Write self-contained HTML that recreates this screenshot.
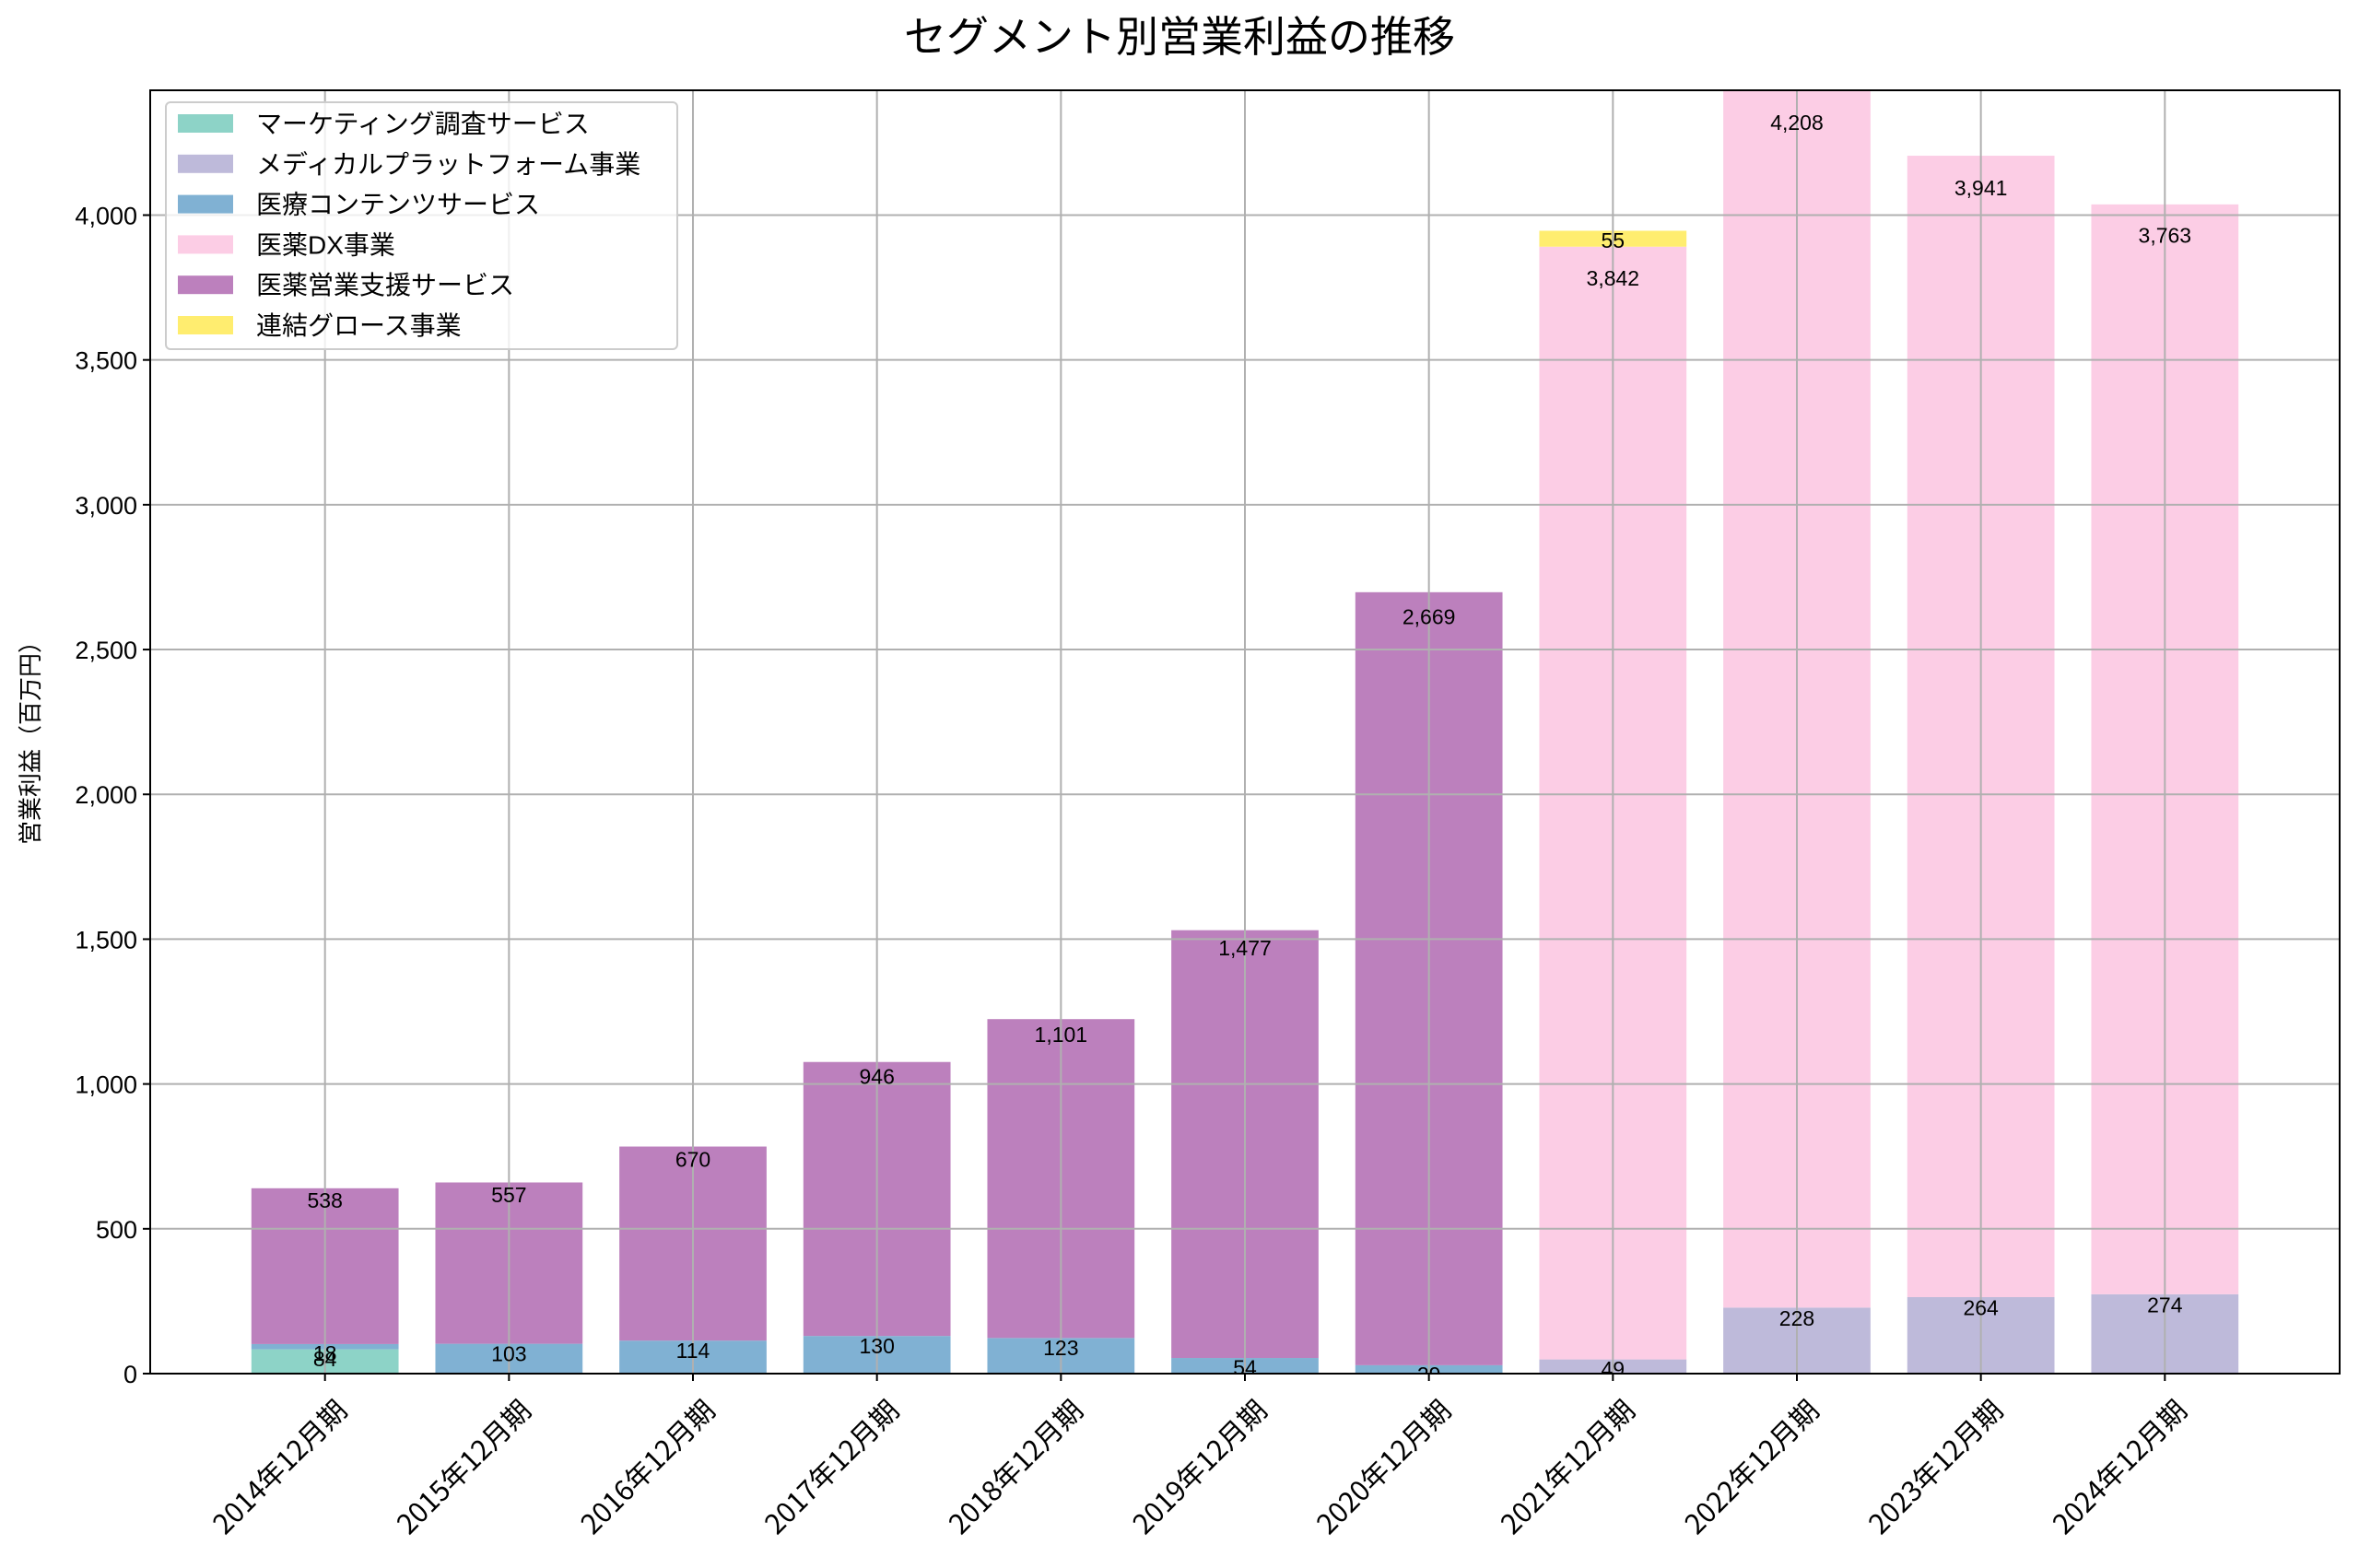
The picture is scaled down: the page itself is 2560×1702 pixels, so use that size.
<!DOCTYPE html>
<html><head><meta charset="utf-8"><style>
body{margin:0;background:#fff}
svg text{font-family:"Liberation Sans","Noto Sans CJK JP",sans-serif}
</style></head><body>
<svg id="chart" width="2560" height="1697" viewBox="0 0 2560 1697" xmlns="http://www.w3.org/2000/svg">
<text x="1280" y="56" text-anchor="middle" font-size="46">セグメント別営業利益の推移</text>
<text transform="translate(42,800) rotate(-90)" text-anchor="middle" font-size="26">営業利益（百万円）</text>
<g id="bars"></g><g id="grid"></g><g id="labels"></g><g id="axes"></g><g id="legend"></g>
</svg>
<script>
const categories=["2014年12月期","2015年12月期","2016年12月期","2017年12月期","2018年12月期","2019年12月期","2020年12月期","2021年12月期","2022年12月期","2023年12月期","2024年12月期"];
const seriesNames=["マーケティング調査サービス","メディカルプラットフォーム事業","医療コンテンツサービス","医薬DX事業","医薬営業支援サービス","連結グロース事業"];
const seriesColors=["#8dd3c7","#bebada","#80b1d3","#fccde5","#bc80bd","#ffed6f"];
const marketing=[84,0,0,0,0,0,0,0,0,0,0];
const platform=[0,0,0,0,0,0,0,49,228,264,274];
const content=[18,103,114,130,123,54,29,0,0,0,0];
const dx=[0,0,0,0,0,0,0,3842,4208,3941,3763];
const sales=[538,557,670,946,1101,1477,2669,0,0,0,0];
const growth=[0,0,0,0,0,0,0,55,0,0,0];
const yTicks=[0,500,1000,1500,2000,2500,3000,3500,4000];
const series=[marketing,platform,content,dx,sales,growth];
const L=163,R=2539,T=98,B=1491,yMax=4431,xMin=-0.95,xMax=10.95;
const ns="http://www.w3.org/2000/svg";
const xS=i=>L+(i-xMin)/(xMax-xMin)*(R-L);
const yS=v=>B-v/yMax*(B-T);
const bw=0.8*(xS(1)-xS(0));
function mk(tag,attrs,parent,txt){const e=document.createElementNS(ns,tag);for(const k in attrs)e.setAttribute(k,attrs[k]);if(txt!==undefined)e.textContent=txt;parent.appendChild(e);return e;}
const gb=document.getElementById('bars'),gg=document.getElementById('grid'),gl=document.getElementById('labels'),ga=document.getElementById('axes'),gleg=document.getElementById('legend');
const cp=mk('clipPath',{id:'clip'},document.getElementById('chart'));mk('rect',{x:L,y:T,width:R-L,height:B-T},cp);
gb.setAttribute('clip-path','url(#clip)');gl.setAttribute('clip-path','url(#clip)');
categories.forEach((c,i)=>{
  let base=0;
  series.forEach((s,k)=>{
    const v=s[i];
    if(v>0){
      const r=mk('rect',{x:xS(i)-bw/2,y:yS(base+v),width:bw,height:yS(base)-yS(base+v),fill:seriesColors[k]},gb);
      
      
      const t=mk('text',{x:xS(i),y:yS(base+v*0.98)+18,'text-anchor':'middle','font-size':23},gl,v.toLocaleString('en-US'));
      
      
    }
    base+=v;
  });
});
yTicks.forEach(v=>{
  const l=mk('line',{x1:L,x2:R,y1:yS(v),y2:yS(v),stroke:'#b0b0b0','stroke-width':2},gg);
  
  
  mk('line',{x1:L-8,x2:L,y1:yS(v),y2:yS(v),stroke:'#000','stroke-width':2},ga);
  const t=mk('text',{x:L-14,y:yS(v)+10,'text-anchor':'end','font-size':27},ga,v.toLocaleString('en-US'));
  
  
});
categories.forEach((c,i)=>{
  const l=mk('line',{x1:xS(i),x2:xS(i),y1:T,y2:B,stroke:'#b0b0b0','stroke-width':2},gg);
  
  
  mk('line',{x1:xS(i),x2:xS(i),y1:B,y2:B+8,stroke:'#000','stroke-width':2},ga);
  const t=mk('text',{transform:`translate(${xS(i)+6},${B+22}) rotate(-45)`,'text-anchor':'end','font-size':30,'dominant-baseline':'hanging','style':'font-family:"Noto Sans CJK JP",sans-serif'},ga,c);
  
  
});
const fr=mk('rect',{x:L,y:T,width:R-L,height:B-T,fill:'none',stroke:'#000','stroke-width':2},ga);


const lb=mk('rect',{x:180,y:111,width:555,height:268,rx:5,fill:'#fff','fill-opacity':0.8,stroke:'#ccc','stroke-width':2},gleg);


seriesNames.forEach((n,k)=>{
  const y=134+k*43.8;
  const p=mk('rect',{x:193,y:y-10,width:60,height:20,fill:seriesColors[k]},gleg);
  
  
  const t=mk('text',{x:278,y:y+10,'font-size':28},gleg,n);
  
  
});
</script>
</body></html>
